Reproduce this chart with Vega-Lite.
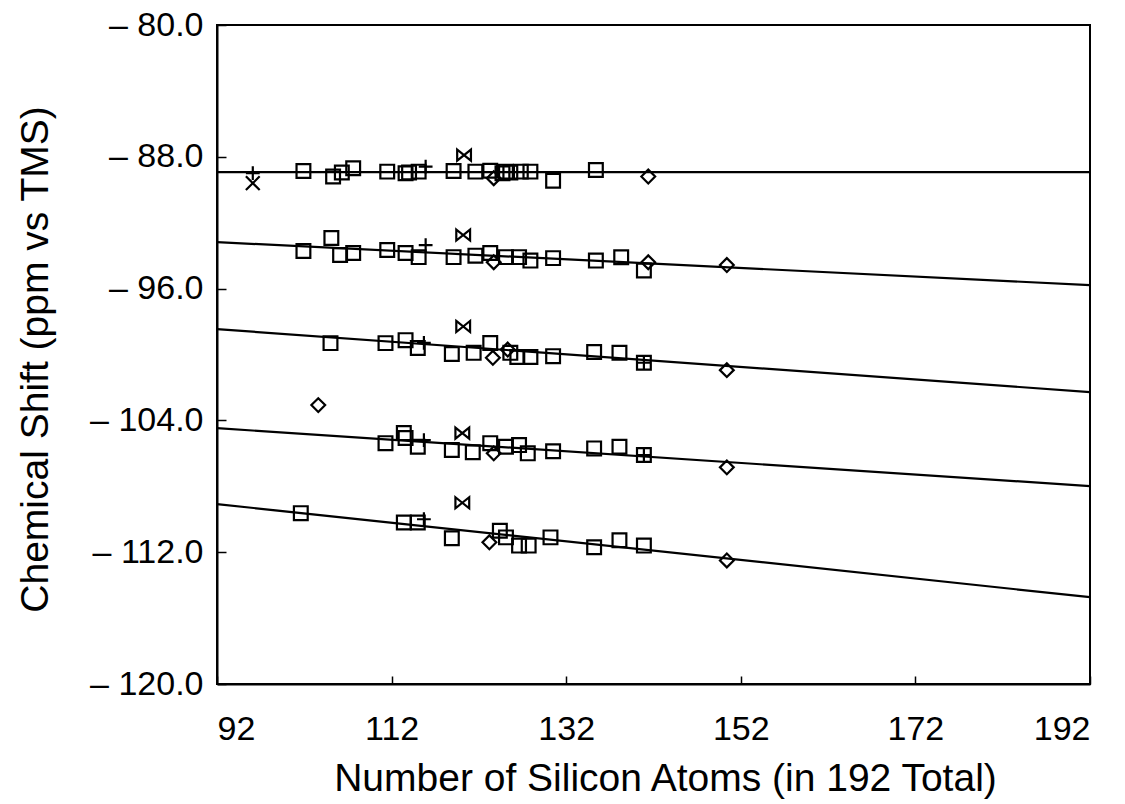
{
  "$schema": "https://vega.github.io/schema/vega-lite/v6.json",
  "autosize": "none",
  "width": 873,
  "height": 659,
  "padding": {"left": 217, "top": 25, "right": 35, "bottom": 120},
  "background": "white",
  "config": {
    "view": {"stroke": "black", "strokeWidth": 2},
    "axis": {
      "grid": false,
      "domainColor": "black",
      "domainWidth": 2,
      "tickColor": "black",
      "tickWidth": 1.5,
      "labelColor": "black",
      "titleColor": "black",
      "labelFont": "Liberation Sans",
      "titleFont": "Liberation Sans",
      "labelFontSize": 34,
      "titleFontSize": 39,
      "titleFontWeight": "normal"
    }
  },
  "datasets": {
    "lines": [
      {"line": 1, "x": 92, "y": -88.93}, {"line": 1, "x": 192, "y": -88.93},
      {"line": 2, "x": 92, "y": -93.18}, {"line": 2, "x": 192, "y": -95.79},
      {"line": 3, "x": 92, "y": -98.46}, {"line": 3, "x": 192, "y": -102.28},
      {"line": 4, "x": 92, "y": -104.47}, {"line": 4, "x": 192, "y": -107.99},
      {"line": 5, "x": 92, "y": -109.08}, {"line": 5, "x": 192, "y": -114.73}
    ],
    "points": [
      {"x": 96.1, "y": -88.99, "s": "plus"}, {"x": 96.1, "y": -89.6, "s": "cross"},
      {"x": 101.9, "y": -88.86, "s": "square"}, {"x": 105.3, "y": -89.2, "s": "square"},
      {"x": 106.3, "y": -88.95, "s": "square"}, {"x": 107.6, "y": -88.7, "s": "square"},
      {"x": 111.5, "y": -88.9, "s": "square"}, {"x": 113.6, "y": -89.0, "s": "square"},
      {"x": 114.0, "y": -88.95, "s": "square"}, {"x": 115.1, "y": -88.9, "s": "square"},
      {"x": 119.1, "y": -88.86, "s": "square"}, {"x": 121.6, "y": -88.9, "s": "square"},
      {"x": 123.3, "y": -88.85, "s": "square"}, {"x": 124.7, "y": -89.0, "s": "square"},
      {"x": 125.1, "y": -88.9, "s": "square"}, {"x": 125.6, "y": -88.95, "s": "square"},
      {"x": 126.8, "y": -88.9, "s": "square"}, {"x": 127.9, "y": -88.9, "s": "square"},
      {"x": 130.5, "y": -89.45, "s": "square"}, {"x": 135.4, "y": -88.8, "s": "square"},
      {"x": 115.9, "y": -88.6, "s": "plus"}, {"x": 120.3, "y": -87.9, "s": "bowtie"},
      {"x": 123.7, "y": -89.3, "s": "diamond"}, {"x": 141.4, "y": -89.2, "s": "diamond"},

      {"x": 101.9, "y": -93.72, "s": "square"}, {"x": 105.1, "y": -92.93, "s": "square"},
      {"x": 106.1, "y": -93.96, "s": "square"}, {"x": 107.6, "y": -93.84, "s": "square"},
      {"x": 111.5, "y": -93.66, "s": "square"}, {"x": 113.6, "y": -93.84, "s": "square"},
      {"x": 115.1, "y": -94.09, "s": "square"}, {"x": 119.1, "y": -94.09, "s": "square"},
      {"x": 121.6, "y": -94.0, "s": "square"}, {"x": 123.3, "y": -93.84, "s": "square"},
      {"x": 125.1, "y": -94.09, "s": "square"}, {"x": 126.6, "y": -94.09, "s": "square"},
      {"x": 127.9, "y": -94.3, "s": "square"}, {"x": 130.5, "y": -94.15, "s": "square"},
      {"x": 135.4, "y": -94.3, "s": "square"}, {"x": 138.3, "y": -94.1, "s": "square"},
      {"x": 140.9, "y": -94.9, "s": "square"},
      {"x": 115.9, "y": -93.36, "s": "plus"}, {"x": 120.2, "y": -92.75, "s": "bowtie"},
      {"x": 123.7, "y": -94.4, "s": "diamond"}, {"x": 141.4, "y": -94.4, "s": "diamond"},
      {"x": 150.4, "y": -94.57, "s": "diamond"},

      {"x": 105.0, "y": -99.31, "s": "square"}, {"x": 111.3, "y": -99.31, "s": "square"},
      {"x": 113.6, "y": -99.13, "s": "square"}, {"x": 115.0, "y": -99.6, "s": "square"},
      {"x": 118.9, "y": -99.97, "s": "square"}, {"x": 121.4, "y": -99.9, "s": "square"},
      {"x": 123.3, "y": -99.3, "s": "square"}, {"x": 125.6, "y": -99.9, "s": "square"},
      {"x": 126.4, "y": -100.15, "s": "square"}, {"x": 127.9, "y": -100.15, "s": "square"},
      {"x": 130.5, "y": -100.1, "s": "square"}, {"x": 135.2, "y": -99.85, "s": "square"},
      {"x": 138.1, "y": -99.9, "s": "square"}, {"x": 140.9, "y": -100.5, "s": "square"},
      {"x": 115.7, "y": -99.3, "s": "plus"}, {"x": 140.9, "y": -100.5, "s": "plus"},
      {"x": 120.2, "y": -98.3, "s": "bowtie"},
      {"x": 123.6, "y": -100.2, "s": "diamond"}, {"x": 125.3, "y": -99.7, "s": "diamond"},
      {"x": 150.4, "y": -100.95, "s": "diamond"}, {"x": 103.6, "y": -103.07, "s": "diamond"},

      {"x": 111.3, "y": -105.38, "s": "square"}, {"x": 113.4, "y": -104.77, "s": "square"},
      {"x": 113.6, "y": -105.07, "s": "square"}, {"x": 115.0, "y": -105.6, "s": "square"},
      {"x": 118.9, "y": -105.8, "s": "square"}, {"x": 121.3, "y": -105.93, "s": "square"},
      {"x": 123.3, "y": -105.38, "s": "square"}, {"x": 125.1, "y": -105.6, "s": "square"},
      {"x": 126.6, "y": -105.5, "s": "square"}, {"x": 127.6, "y": -106.0, "s": "square"},
      {"x": 130.5, "y": -105.87, "s": "square"}, {"x": 135.2, "y": -105.7, "s": "square"},
      {"x": 138.1, "y": -105.6, "s": "square"}, {"x": 140.9, "y": -106.1, "s": "square"},
      {"x": 115.7, "y": -105.2, "s": "plus"}, {"x": 140.9, "y": -106.1, "s": "plus"},
      {"x": 120.1, "y": -104.77, "s": "bowtie"},
      {"x": 123.7, "y": -106.0, "s": "diamond"}, {"x": 150.4, "y": -106.85, "s": "diamond"},

      {"x": 101.6, "y": -109.63, "s": "square"}, {"x": 113.4, "y": -110.2, "s": "square"},
      {"x": 115.0, "y": -110.2, "s": "square"}, {"x": 118.9, "y": -111.15, "s": "square"},
      {"x": 124.4, "y": -110.7, "s": "square"}, {"x": 125.1, "y": -111.1, "s": "square"},
      {"x": 126.6, "y": -111.6, "s": "square"}, {"x": 127.7, "y": -111.6, "s": "square"},
      {"x": 130.2, "y": -111.1, "s": "square"}, {"x": 135.2, "y": -111.7, "s": "square"},
      {"x": 138.1, "y": -111.27, "s": "square"}, {"x": 140.9, "y": -111.6, "s": "square"},
      {"x": 115.7, "y": -110.0, "s": "plus"}, {"x": 120.1, "y": -109.0, "s": "bowtie"},
      {"x": 123.2, "y": -111.4, "s": "diamond"}, {"x": 150.4, "y": -112.5, "s": "diamond"}
    ]
  },
  "encoding": {
    "x": {
      "field": "x",
      "type": "quantitative",
      "scale": {"domain": [92, 192], "nice": false, "zero": false},
      "axis": {
        "values": [92, 112, 132, 152, 172, 192],
        "tickSize": -8,
        "labelPadding": 36,
        "title": "Number of Silicon Atoms (in 192 Total)",
        "titleX": 448,
        "titleY": 106,
        "titleBaseline": "alphabetic",
        "titleAnchor": "middle"
      }
    },
    "y": {
      "field": "y",
      "type": "quantitative",
      "scale": {"domain": [-120, -80], "nice": false, "zero": false},
      "axis": {
        "values": [-120, -112, -104, -96, -88, -80],
        "labelExpr": "'– ' + format(abs(datum.value), '.1f')",
        "tickSize": -9,
        "labelPadding": 23,
        "title": "Chemical Shift (ppm vs TMS)",
        "titleX": -182,
        "titleY": 334,
        "titleAngle": -90,
        "titleBaseline": "middle",
        "titleAlign": "center"
      }
    }
  },
  "layer": [
    {
      "data": {"name": "lines"},
      "mark": {"type": "line", "color": "black", "strokeWidth": 2.2},
      "encoding": {"detail": {"field": "line", "type": "nominal"}}
    },
    {
      "data": {"name": "points"},
      "mark": {"type": "point", "filled": false, "stroke": "black", "strokeWidth": 2.2, "size": 190, "opacity": 1},
      "encoding": {
        "shape": {
          "field": "s",
          "type": "nominal",
          "legend": null,
          "scale": {
            "domain": ["square", "diamond", "plus", "cross", "bowtie"],
            "range": ["square", "diamond", "M-1,0L1,0M0,-1L0,1", "M-1,-1L1,1M-1,1L1,-1", "M-1,-0.8L1,0.8L1,-0.8L-1,0.8Z"]
          }
        }
      }
    }
  ]
}
